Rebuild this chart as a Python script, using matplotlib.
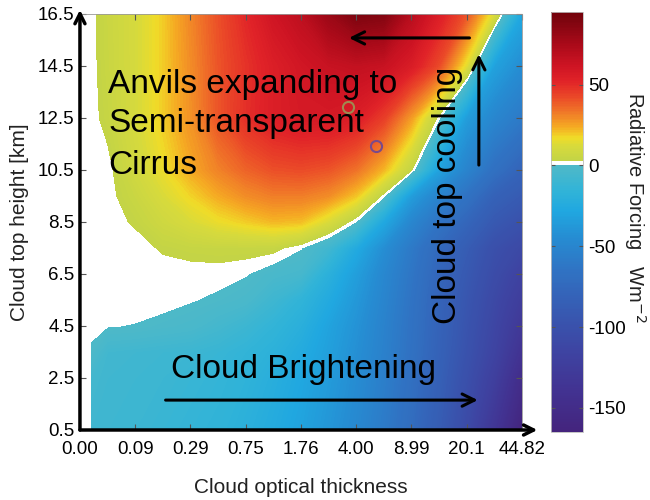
import numpy as np
import matplotlib
matplotlib.use('Agg')
import matplotlib.pyplot as plt
from matplotlib.colors import LinearSegmentedColormap

plt.rcParams['font.family'] = ['Liberation Sans', 'DejaVu Sans']
plt.rcParams['axes.unicode_minus'] = False

# x axis is drawn on tick-index positions, labelled with optical thickness
tau_labels = ['0.00', '0.09', '0.29', '0.75', '1.76', '4.00', '8.99', '20.1', '44.82']
height_ticks = [0.5, 2.5, 4.5, 6.5, 8.5, 10.5, 12.5, 14.5, 16.5]
cbar_ticks = [-150, -100, -50, 0, 50]

# grid (columns in tick-index units, rows in km)
col_pos = [0.2, 0.5, 1, 1.5, 2, 2.5, 3, 3.5, 4, 4.5, 5, 5.5, 6, 6.5, 7, 7.5, 8]
row_km = [0.5, 2.5, 3.5, 4.5, 5.5, 6.5, 7.5, 8.5, 9.5, 10.5, 12.5, 14.5, 16.5]

# radiative forcing [W m-2], rows bottom -> top
forcing = np.array([
    [-8, -9, -10, -12, -14, -16, -20, -25, -31, -39, -48, -59, -72, -88, -108, -135, -165],
    [-6, -8, -9, -10, -12, -14, -17, -22, -28, -36, -45, -56, -69, -84, -102, -122, -150],
    [-1, -7, -8, -9, -10, -12, -15, -19, -25, -33, -43, -54, -67, -82, -99, -116, -140],
    [1.5, 0.2, -0.2, -1.5, -2.7, -6, -10, -15, -21, -31, -41, -53, -66, -81, -97, -113, -132],
    [1.5, 1.5, 1.5, 1.5, 0.3, -0.9, -2.7, -9, -16, -26, -38, -51, -65, -80, -95, -110, -125],
    [1.5, 1.5, 1.5, 1.5, 1.5, 1.5, 0.3, -3, -5, -20, -34, -49, -63, -78, -92, -106, -118],
    [1.5, 1.5, 1.5, 3.5, 4.5, 5, 5, 4.5, 0.3, -8, -26, -44, -60, -75, -88, -102, -110],
    [1.5, 1.5, 3.5, 8, 12, 16, 19, 22, 21, 12, -0.3, -28, -50, -65, -78, -92, -100],
    [1.5, 1.5, 6, 12, 18, 24, 29, 32, 32, 29, 20, 1, -35, -52, -66, -82, -90],
    [1.5, 1.5, 9, 16, 24, 31, 37, 41, 42, 40, 34, 22, 3.5, -32, -52, -68, -80],
    [1.5, 4.5, 11, 19, 28, 40, 49, 55, 58, 58, 55, 45, 26, 1, -35, -50, -60],
    [1.5, 5.6, 11, 19, 29, 40, 48, 55, 60, 64, 66, 64, 56, 42, 14, -32, -45],
    [1.5, 6, 11, 19, 30, 41, 51, 61, 68, 80, 90, 88, 70, 55, 40, 12, -28],
])

# two marked cases
case_x = [4.85, 5.36]
case_y = [12.92, 11.42]
case_colors = ['#a08a50', '#7a4a8a']

vmin, vmax = -165, 95
nodes = [(-165, '#44247d'), (-140, '#423291'), (-115, '#3e44a2'), (-90, '#375ab2'),
         (-65, '#3073c3'), (-45, '#268cd2'), (-28, '#20a8e0'), (-15, '#32b4d7'),
         (-5, '#46b7cd'), (-0.2, '#4eb9c8'), (0, '#ffffff'), (3, '#ffffff'),
         (3.2, '#c3d446'), (12, '#d7da3c'), (17, '#f0dc28'), (24, '#f5aa23'),
         (33, '#f07828'), (42, '#eb4b28'), (52, '#e12328'), (62, '#cd1423'),
         (75, '#aa0a19'), (90, '#7d050f'), (95, '#73000a')]
cmap = LinearSegmentedColormap.from_list(
    'rf', [((v - vmin) / (vmax - vmin), c) for v, c in nodes], N=1024)

fig = plt.figure(figsize=(6.5, 5), dpi=100)
ax = fig.add_axes([0.123, 0.14, 0.68, 0.832])
cax = fig.add_axes([0.848, 0.136, 0.049, 0.84])

levels = np.arange(vmin, vmax + 1, 1.0)
cf = ax.contourf(col_pos, row_km, forcing, levels=levels, cmap=cmap,
                 vmin=vmin, vmax=vmax)

for x, y, c in zip(case_x, case_y, case_colors):
    ax.plot(x, y, 'o', mfc='none', mec=c, ms=8, mew=1.5)

ax.set_xlim(0, 8)
ax.set_ylim(0.5, 16.5)
ax.set_xticks(range(len(tau_labels)))
ax.set_xticklabels(tau_labels)
ax.set_yticks(height_ticks)
ax.set_yticklabels(['%.1f' % h for h in height_ticks])
ax.tick_params(direction='in', length=4, labelsize=13.5, top=True, right=True,
               color='#555555')
ax.tick_params(axis='x', pad=8)
ax.tick_params(axis='y', pad=4)
for s in ['left', 'bottom']:
    ax.spines[s].set_visible(False)
for s in ['top', 'right']:
    ax.spines[s].set_color('#999999')
    ax.spines[s].set_linewidth(0.6)

# thick axis arrows
ax.annotate('', xy=(0, 1.01), xytext=(0, 0), xycoords='axes fraction',
            arrowprops=dict(arrowstyle='->', lw=2.5, color='k', mutation_scale=18,
                            shrinkA=0, shrinkB=0), annotation_clip=False)
ax.annotate('', xy=(1.035, 0), xytext=(0, 0), xycoords='axes fraction',
            arrowprops=dict(arrowstyle='->', lw=2.5, color='k', mutation_scale=18,
                            shrinkA=0, shrinkB=0), annotation_clip=False)

ax.set_xlabel('Cloud optical thickness', fontsize=15, color='#222222', labelpad=14)
ax.set_ylabel('Cloud top height [km]', fontsize=15, color='#222222', labelpad=6)

# annotations
ax.text(0.51, 13.46, 'Anvils expanding to', fontsize=24, va='baseline')
ax.text(0.51, 11.96, 'Semi-transparent', fontsize=24, va='baseline')
ax.text(0.51, 10.35, 'Cirrus', fontsize=24, va='baseline')
ax.text(6.65, 9.54, 'Cloud top cooling', fontsize=24, rotation=90,
        ha='center', va='center')
ax.text(1.64, 2.5, 'Cloud Brightening', fontsize=24, va='baseline')

arrow = dict(arrowstyle='->', lw=2.2, color='k', mutation_scale=22,
             shrinkA=0, shrinkB=0)
ax.annotate('', xy=(4.87, 15.58), xytext=(7.05, 15.58), arrowprops=arrow)
ax.annotate('', xy=(7.22, 14.95), xytext=(7.22, 10.69), arrowprops=arrow)
ax.annotate('', xy=(7.2, 1.65), xytext=(1.55, 1.65), arrowprops=arrow)

cb = fig.colorbar(cf, cax=cax, ticks=cbar_ticks)
cb.ax.tick_params(direction='in', length=3, labelsize=13.5, left=True, right=True,
                  color='#555555')
cb.outline.set_edgecolor('#bbbbbb')
cb.outline.set_linewidth(0.6)
cb.ax.set_ylabel('Radiative Forcing   Wm$^{-2}$', fontsize=14.5, rotation=270,
                 color='#222222', ha='center', va='center')
cb.ax.yaxis.set_label_coords(2.62, 0.535)

fig.savefig('out.png', dpi=100)
